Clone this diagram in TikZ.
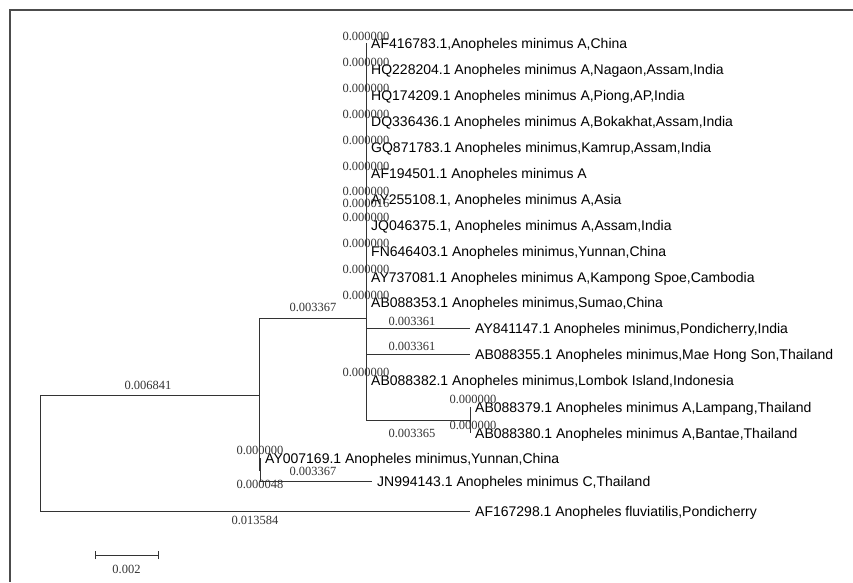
\documentclass[tikz,border=0pt]{standalone}
\usepackage{fontspec}
\setmainfont{Liberation Serif}
\newfontfamily\leaffont{Liberation Sans}
\usepackage{tikz}
\usetikzlibrary{positioning,calc}

\begin{document}
\begin{tikzpicture}[
  x=1pt, y=-1pt,
  branch/.style={draw=black!80, line width=0.9pt},
  frame/.style={draw=black!70, line width=1.6pt},
  taxon/.style={anchor=west, inner xsep=5pt, inner ysep=0pt, text height=10pt, text depth=0pt, font=\leaffont\fontsize{14}{16}\selectfont},
  blen/.style={inner sep=0pt, text=black!80, font=\fontsize{12.5}{14}\selectfont}
]
\useasboundingbox (0,0) rectangle (853,582);
\draw[frame] (853,10) -- (10,10) -- (10,582);

% internal nodes
\coordinate (root) at (40,453);
\coordinate (nA) at (259,395);
\coordinate (nB) at (366,318);
\coordinate (nC) at (470,420);
\coordinate (nD) at (260,470);

% minimus A clade
\node[taxon] (af416783) at (366,43) {AF416783.1,Anopheles minimus A,China};
\node[taxon] (hq228204) at (366,69) {HQ228204.1 Anopheles minimus A,Nagaon,Assam,India};
\node[taxon] (hq174209) at (366,95) {HQ174209.1 Anopheles minimus A,Piong,AP,India};
\node[taxon] (dq336436) at (366,121) {DQ336436.1 Anopheles minimus A,Bokakhat,Assam,India};
\node[taxon] (gq871783) at (366,147) {GQ871783.1 Anopheles minimus,Kamrup,Assam,India};
\node[taxon] (af194501) at (366,173) {AF194501.1 Anopheles minimus A};
\node[taxon] (ay255108) at (366,199) {AY255108.1, Anopheles minimus A,Asia};
\node[taxon] (jq046375) at (366,225) {JQ046375.1, Anopheles minimus A,Assam,India};
\node[taxon] (fn646403) at (366,251) {FN646403.1 Anopheles minimus,Yunnan,China};
\node[taxon] (ay737081) at (366,277) {AY737081.1 Anopheles minimus A,Kampong Spoe,Cambodia};
\node[taxon] (ab088353) at (366,302) {AB088353.1 Anopheles minimus,Sumao,China};
\node[taxon] (ay841147) at (470,328) {AY841147.1 Anopheles minimus,Pondicherry,India};
\node[taxon] (ab088355) at (470,354) {AB088355.1 Anopheles minimus,Mae Hong Son,Thailand};
\node[taxon] (ab088382) at (366,380) {AB088382.1 Anopheles minimus,Lombok Island,Indonesia};
\node[taxon] (ab088379) at (470,407) {AB088379.1 Anopheles minimus A,Lampang,Thailand};
\node[taxon] (ab088380) at (470,433) {AB088380.1 Anopheles minimus A,Bantae,Thailand};

% basal taxa
\node[taxon] (ay007169) at (260,458) {AY007169.1 Anopheles minimus,Yunnan,China};
\node[taxon] (jn994143) at (372,481) {JN994143.1 Anopheles minimus C,Thailand};
\node[taxon] (af167298) at (470,511) {AF167298.1 Anopheles fluviatilis,Pondicherry};

% branches
\draw[branch] (root) |- (nA);
\draw[branch] (root) |- (af167298.west);
\draw[branch] (nA) |- (nB);
\draw[branch] (nA) |- (nD);
\draw[branch] (nD) |- (ay007169.west);
\draw[branch] (nD) |- (jn994143.west);
\draw[branch] (nB) |- (af416783.west);
\draw[branch] (nB) |- (ay841147.west);
\draw[branch] (nB) |- (ab088355.west);
\draw[branch] (nB) |- (nC);
\draw[branch] (nC) |- (ab088379.west);
\draw[branch] (nC) |- (ab088380.west);

% branch lengths
\node[blen] (l1) at (366,36) {0.000000};
\node[blen] (l2) at (366,62) {0.000000};
\node[blen] (l3) at (366,88) {0.000000};
\node[blen] (l4) at (366,114) {0.000000};
\node[blen] (l5) at (366,140) {0.000000};
\node[blen] (l6) at (366,166) {0.000000};
\node[blen] (l7) at (366,191) {0.000000};
\node[blen] (l7b) at (366,203) {0.000016};
\node[blen] (l8) at (366,217) {0.000000};
\node[blen] (l9) at (366,243) {0.000000};
\node[blen] (l10) at (366,269) {0.000000};
\node[blen] (l11) at (366,295) {0.000000};
\node[blen] (l12) at (412,321) {0.003361};
\node[blen] (l13) at (412,346) {0.003361};
\node[blen] (l14) at (366,372) {0.000000};
\node[blen] (l15) at (473,399) {0.000000};
\node[blen] (l16) at (473,425) {0.000000};
\node[blen] (l17) at (412,433) {0.003365};
\node[blen] (l18) at (313,307) {0.003367};
\node[blen] (l19) at (260,450) {0.000000};
\node[blen] (l20) at (313,471) {0.003367};
\node[blen] (l21) at (260,484) {0.000048};
\node[blen] (l22) at (148,385) {0.006841};
\node[blen] (l23) at (255,520) {0.013584};

% scale bar
\coordinate (sbL) at (95,555);
\coordinate (sbR) at (158,555);
\draw[branch] (sbL) -- (sbR);
\draw[branch] ([yshift=-4pt]sbL) -- ([yshift=4pt]sbL);
\draw[branch] ([yshift=-4pt]sbR) -- ([yshift=4pt]sbR);
\node[blen, below=10pt of $(sbL)!0.5!(sbR)$] (sblabel) {0.002};
\end{tikzpicture}
\end{document}
